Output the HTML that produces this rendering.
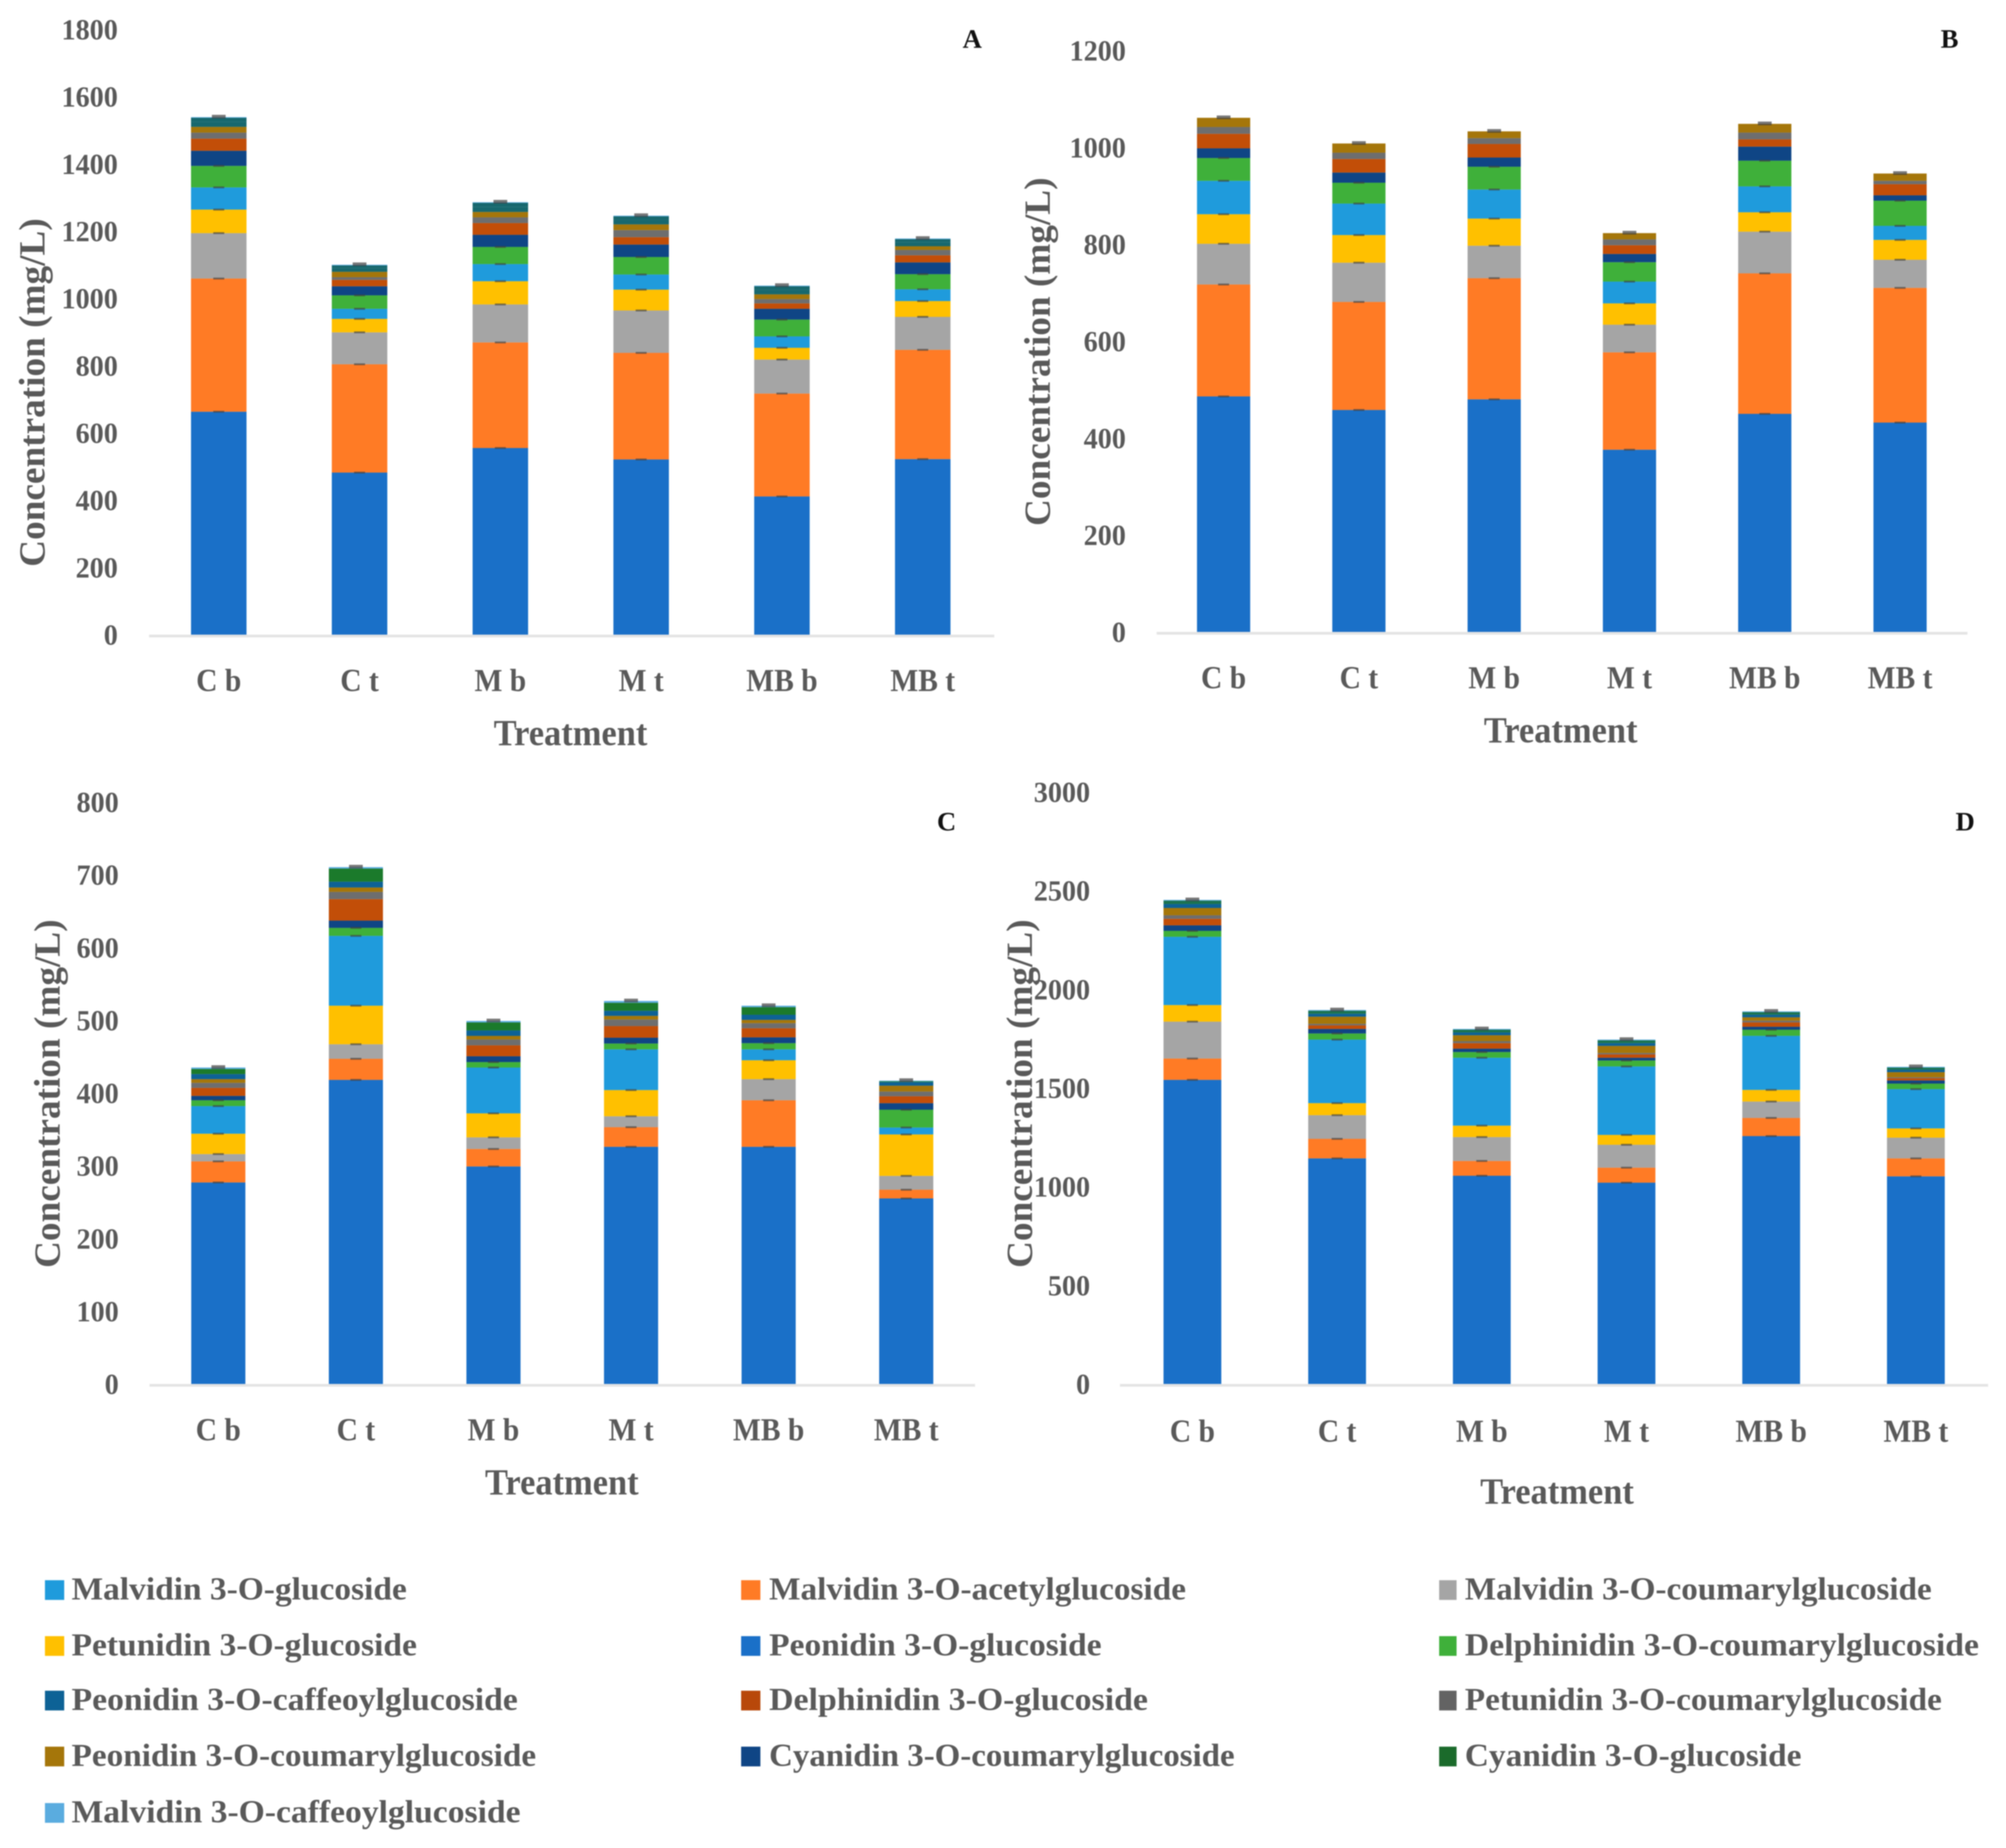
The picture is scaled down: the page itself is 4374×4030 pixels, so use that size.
<!DOCTYPE html>
<html lang="en">
<head>
<meta charset="utf-8">
<title>Anthocyanin concentration by treatment</title>
<style>
html,body{margin:0;padding:0;background:#fff;}
svg{display:block;}
text{font-family:"Liberation Serif",serif;fill:#595959;font-weight:bold;}
#charts,#legend{filter:blur(1.4px);}
</style>
</head>
<body>
<svg id="figure" xmlns="http://www.w3.org/2000/svg" width="4374" height="4030" viewBox="0 0 4374 4030">
<rect width="4374" height="4030" fill="#ffffff"/>
<g id="charts"></g>
<g id="legend" font-size="70">
  <g><rect x="98" y="3446" width="42" height="43" fill="#1f9bdc"/><text x="156" y="3488" textLength="731" lengthAdjust="spacingAndGlyphs">Malvidin 3-O-glucoside</text></g>
  <g><rect x="1616" y="3446" width="42" height="43" fill="#ff7b25"/><text x="1677" y="3488" textLength="909" lengthAdjust="spacingAndGlyphs">Malvidin 3-O-acetylglucoside</text></g>
  <g><rect x="3138" y="3446" width="38" height="43" fill="#a5a5a5"/><text x="3194" y="3488" textLength="1018" lengthAdjust="spacingAndGlyphs">Malvidin 3-O-coumarylglucoside</text></g>

  <g><rect x="98" y="3568" width="42" height="43" fill="#ffc000"/><text x="156" y="3610" textLength="753" lengthAdjust="spacingAndGlyphs">Petunidin 3-O-glucoside</text></g>
  <g><rect x="1616" y="3568" width="42" height="43" fill="#1a70c8"/><text x="1677" y="3610" textLength="725" lengthAdjust="spacingAndGlyphs">Peonidin 3-O-glucoside</text></g>
  <g><rect x="3138" y="3568" width="38" height="43" fill="#3fb03a"/><text x="3194" y="3610" textLength="1121" lengthAdjust="spacingAndGlyphs">Delphinidin 3-O-coumarylglucoside</text></g>

  <g><rect x="98" y="3687" width="42" height="43" fill="#0d6296"/><text x="156" y="3729" textLength="973" lengthAdjust="spacingAndGlyphs">Peonidin 3-O-caffeoylglucoside</text></g>
  <g><rect x="1616" y="3687" width="42" height="43" fill="#b8480a"/><text x="1677" y="3729" textLength="826" lengthAdjust="spacingAndGlyphs">Delphinidin 3-O-glucoside</text></g>
  <g><rect x="3138" y="3687" width="38" height="43" fill="#636363"/><text x="3194" y="3729" textLength="1040" lengthAdjust="spacingAndGlyphs">Petunidin 3-O-coumarylglucoside</text></g>

  <g><rect x="98" y="3809" width="42" height="43" fill="#a5760a"/><text x="156" y="3851" textLength="1013" lengthAdjust="spacingAndGlyphs">Peonidin 3-O-coumarylglucoside</text></g>
  <g><rect x="1616" y="3809" width="42" height="43" fill="#0f4585"/><text x="1677" y="3851" textLength="1015" lengthAdjust="spacingAndGlyphs">Cyanidin 3-O-coumarylglucoside</text></g>
  <g><rect x="3138" y="3809" width="38" height="43" fill="#1b6b2b"/><text x="3194" y="3851" textLength="734" lengthAdjust="spacingAndGlyphs">Cyanidin 3-O-glucoside</text></g>

  <g><rect x="98" y="3932" width="42" height="43" fill="#5aacdf"/><text x="156" y="3974" textLength="979" lengthAdjust="spacingAndGlyphs">Malvidin 3-O-caffeoylglucoside</text></g>
</g>
</svg>
<script>
// Categories and series (bottom to top of each stack)
const categories = ['C b', 'C t', 'M b', 'M t', 'MB b', 'MB t'];
const seriesNames = ['peonidin-glucoside', 'malvidin-acetylglucoside', 'malvidin-coumarylglucoside', 'petunidin-glucoside', 'malvidin-glucoside', 'delphinidin-coumarylglucoside', 'cyanidin-coumarylglucoside', 'delphinidin-glucoside', 'petunidin-coumarylglucoside', 'peonidin-coumarylglucoside', 'peonidin-caffeoylglucoside', 'cyanidin-glucoside', 'malvidin-caffeoylglucoside'];

// Tick labels
const ticksA = [0, 200, 400, 600, 800, 1000, 1200, 1400, 1600, 1800];
const ticksB = [0, 200, 400, 600, 800, 1000, 1200];
const ticksC = [0, 100, 200, 300, 400, 500, 600, 700, 800];
const ticksD = [0, 500, 1000, 1500, 2000, 2500, 3000];

// Panel A values, one row per series, one column per category
const valuesA = [
  [663, 482, 555, 521, 411, 522],
  [396, 322, 314, 317, 306, 325],
  [135, 95, 113, 126, 101, 98],
  [70, 40, 69, 62, 35, 47],
  [66, 30, 51, 45, 34, 35],
  [64, 40, 51, 52, 50, 45],
  [45, 27, 36, 37, 32, 35],
  [36, 19, 35, 22, 16, 21],
  [18, 8, 17, 21, 13, 16],
  [17, 16, 16, 17, 14, 11],
  [15, 11, 15, 14, 14, 12],
  [12, 8, 12, 10, 10, 9],
  [2, 2, 2, 2, 2, 2]
];

// Panel B values
const valuesB = [
  [486, 458, 480, 376, 450, 432],
  [231, 223, 250, 201, 290, 278],
  [84, 81, 67, 57, 86, 58],
  [61, 57, 56, 44, 40, 41],
  [69, 65, 60, 45, 53.5, 29],
  [47, 43, 47, 40, 53, 52],
  [20, 21, 19, 17, 29, 11],
  [30, 28, 28, 18, 15, 23],
  [14, 13, 12, 12, 14, 7],
  [19, 19, 14, 13, 18, 15],
  [0, 0, 0, 0, 0, 0],
  [0, 0, 0, 0, 0, 0],
  [0, 0, 0, 0, 0, 0]
];

// Panel C values
const valuesC = [
  [277, 418, 299, 326, 326, 255],
  [29, 29, 24, 27, 64, 12],
  [10, 20, 16, 15, 29, 19],
  [28, 53, 33, 36, 26, 57],
  [38, 96, 63, 56, 15, 9.5],
  [8, 11, 7.5, 8, 8.5, 24.5],
  [6, 10, 8, 8, 8, 9],
  [11, 29.5, 15, 16, 12.5, 9.5],
  [7, 10, 8, 9, 7, 6.5],
  [5, 6, 5, 5, 4.5, 8],
  [7, 8, 7.5, 7, 7, 5],
  [7, 18, 11, 11, 10.5, 1],
  [2, 2, 2, 2.5, 2, 1]
];

// Panel D values
const valuesD = [
  [1541, 1143, 1055, 1020, 1256, 1052],
  [108, 99, 75, 76, 92, 91],
  [187, 120, 121, 116, 83, 105],
  [84, 61, 58, 50, 59, 47],
  [346, 322, 344, 347, 274, 199],
  [30, 31, 29, 30, 31, 28],
  [28, 23, 17, 14, 15, 16],
  [33, 18, 28, 17, 22, 11],
  [18, 8, 10, 7, 9, 5],
  [37, 36, 30, 36, 17, 26],
  [20, 15, 14, 14, 13, 12],
  [17, 15, 14, 14, 13, 11],
  [4, 4, 4, 4, 4, 4]
];

// Styling
const baseColors = ['#1a70c8', '#ff7b25', '#a5a5a5', '#ffc000', '#1f9bdc', '#3fb03a', '#0f4585', '#c24e08', '#6e6e6e', '#a5760a', '#0d6296', '#1b7a2b', '#5aacdf'];

// Layout of each panel
const panels = [
  { id: 'a', letter: 'A', values: valuesA, ticks: ticksA, yMax: 1800, yTop: 64, yZero: 1384, first: 477, step: 307, barW: 121, axisL: 325, axisR: 2168, axisY: 1387, tickX: 257, catY: 1482, xTitleX: 1244, xTitleY: 1596, yTitleX: 73, yTitleC: 856, letterX: 2120, letterY: 84, colors: { 10: '#17686e', 11: '#17686e' } },
  { id: 'b', letter: 'B', values: valuesB, ticks: ticksB, yMax: 1200, yTop: 110, yZero: 1378, first: 2668, step: 295, barW: 116, axisL: 2522, axisR: 4290, axisY: 1381, tickX: 2455, catY: 1476, xTitleX: 3403, xTitleY: 1590, yTitleX: 2265, yTitleC: 767, letterX: 4251, letterY: 84, colors: {} },
  { id: 'c', letter: 'C', values: valuesC, ticks: ticksC, yMax: 800, yTop: 1749, yZero: 3018, first: 476, step: 300, barW: 118, axisL: 326, axisR: 2126, axisY: 3021, tickX: 259, catY: 3116, xTitleX: 1225, xTitleY: 3230, yTitleX: 106, yTitleC: 2385, letterX: 2064, letterY: 1791, colors: {} },
  { id: 'd', letter: 'D', values: valuesD, ticks: ticksD, yMax: 3000, yTop: 1727, yZero: 3018, first: 2600, step: 315.5, barW: 126, axisL: 2442, axisR: 4335, axisY: 3021, tickX: 2377, catY: 3119, xTitleX: 3395, xTitleY: 3250, yTitleX: 2226, yTitleC: 2385, letterX: 4285, letterY: 1791, colors: { 10: '#0d6296', 11: '#1a7350' } }
];

const NS = 'http://www.w3.org/2000/svg';

function make(parent, tag, attrs, content) {
  const node = document.createElementNS(NS, tag);
  Object.keys(attrs).forEach(function (k) { node.setAttribute(k, attrs[k]); });
  if (content !== undefined) node.textContent = content;
  parent.appendChild(node);
  return node;
}

function condense(node, factor) {
  node.setAttribute('textLength', node.getComputedTextLength() * factor);
  node.setAttribute('lengthAdjust', 'spacingAndGlyphs');
}

const root = document.getElementById('charts');

panels.forEach(function (p) {
  const yScale = function (v) { return p.yZero - (p.yZero - p.yTop) * v / p.yMax; };
  const xScale = function (i) { return p.first + p.step * i; };

  const panel = make(root, 'g', {});
  
  

  const axis = make(panel, 'rect', { x: p.axisL, y: p.axisY - 3, width: p.axisR - p.axisL, height: 6, fill: '#e4e4e4' });
  
  

  p.ticks.forEach(function (t) {
    const tick = make(panel, 'text', { x: p.tickX, y: yScale(t) + 22, 'text-anchor': 'end', 'font-size': 64 }, String(t));
    
    
    condense(tick, 0.96);
  });

  categories.forEach(function (cat, i) {
    const stack = make(panel, 'g', {});
    
    

    let cum = 0;
    const tops = [];
    p.values.forEach(function (row, s) {
      const v = row[i];
      const y1 = yScale(cum);
      const y2 = yScale(cum + v);
      cum += v;
      tops.push(cum);
      const seg = make(stack, 'rect', { x: xScale(i) - p.barW / 2, y: y2, width: p.barW, height: Math.max(0, y1 - y2), fill: p.colors[s] || baseColors[s] });
      
      
    });

    tops.forEach(function (top, s) {
      if (s > 5 && s < tops.length - 1) return;
      const big = s === tops.length - 1;
      const cap = make(stack, 'rect', { x: xScale(i) - (big ? 15 : 12), y: yScale(top) - (big ? 5 : 2), width: big ? 30 : 24, height: big ? 8 : 4, fill: '#3f3f3f', opacity: big ? 0.7 : 0.65 });
      
      
    });

    const label = make(panel, 'text', { x: xScale(i), y: p.catY + 25, 'text-anchor': 'middle', 'font-size': 70 }, cat);
    
    
    condense(label, 0.92);
  });

  const xTitle = make(panel, 'text', { x: p.xTitleX, y: p.xTitleY + 29, 'text-anchor': 'middle', 'font-size': 80, textLength: 335, lengthAdjust: 'spacingAndGlyphs' }, 'Treatment');
  
  

  const yTitle = make(panel, 'text', { transform: 'translate(' + (p.yTitleX + 24) + ' ' + p.yTitleC + ') rotate(-90)', 'text-anchor': 'middle', 'font-size': 80, textLength: 760, lengthAdjust: 'spacingAndGlyphs' }, 'Concentration (mg/L)');
  
  

  const letter = make(panel, 'text', { x: p.letterX, y: p.letterY + 20, 'text-anchor': 'middle', 'font-size': 58, style: 'fill:#111111' }, p.letter);
  
  
});
</script>
</body>
</html>
